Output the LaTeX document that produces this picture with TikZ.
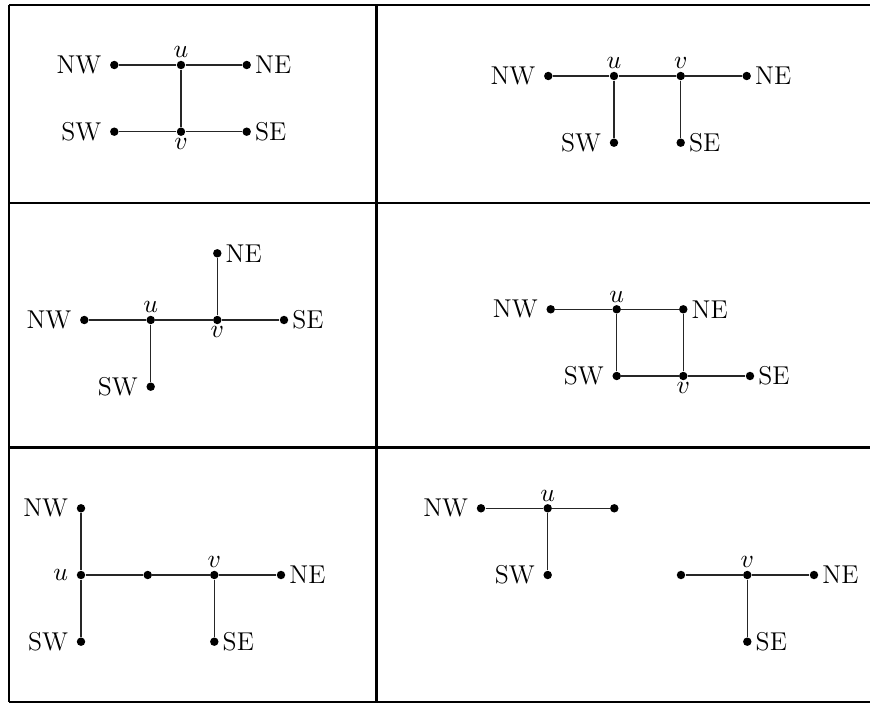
\documentclass[tikz,border=0pt]{standalone}
\usetikzlibrary{positioning}
\tikzset{
  v/.style={circle,fill=black,inner sep=0pt,minimum size=3.6pt},
  frame/.style={line width=0.9pt},
  edge/.style={line width=0.5pt,black!85},
  lw/.style={label={[inner sep=3.3pt]left:#1}},
  le/.style={label={[inner sep=1.4pt]right:#1}},
  la/.style={label={[inner sep=0.8pt]above:#1}},
  lb/.style={label={[inner sep=0.6pt]below:#1}},
}
\begin{document}
\begin{tikzpicture}[x=0.015cm,y=-0.015cm,every label/.style={font=\fontsize{11}{13}\selectfont}]
\useasboundingbox (0,0) rectangle (870,703);
% table frame
\draw[frame] (9,5) -- (875,5);
\draw[frame] (9,203.3) -- (875,203.3);
\draw[frame] (9,447.5) -- (875,447.5);
\draw[frame] (9,701.8) -- (875,701.8);
\draw[frame] (9,5) -- (9,701.8);
\draw[frame] (376.5,5) -- (376.5,701.8);
% panel 1
\node[v,lw=NW] (a1) at (114.3,65) {};
\node[v,la=$u$] (a2) at (181,65) {};
\node[v,le=NE] (a3) at (246.7,65) {};
\node[v,lw=SW] (a4) at (114.3,131.7) {};
\node[v,lb=$v$] (a5) at (181,131.7) {};
\node[v,le=SE] (a6) at (246.7,131.7) {};
\draw[edge] (a1) -- (a2) -- (a3);
\draw[edge] (a4) -- (a5) -- (a6);
\draw[edge] (a2) -- (a5);
% panel 2
\node[v,lw=NW] (b1) at (548.3,76) {};
\node[v,la=$u$] (b2) at (614,76) {};
\node[v,la=$v$] (b3) at (680.7,76) {};
\node[v,le=NE] (b4) at (746.7,76) {};
\node[v,lw=SW] (b5) at (614,142.7) {};
\node[v,le=SE] (b6) at (680.7,142.7) {};
\draw[edge] (b1) -- (b2) -- (b3) -- (b4);
\draw[edge] (b2) -- (b5);
\draw[edge] (b3) -- (b6);
% panel 3
\node[v,lw=NW] (c1) at (84.3,320) {};
\node[v,la=$u$] (c2) at (150.7,320) {};
\node[v,lb=$v$] (c3) at (217.3,320) {};
\node[v,le=SE] (c4) at (284,320) {};
\node[v,le=NE] (c5) at (217.3,253.3) {};
\node[v,lw=SW] (c6) at (150.7,386.7) {};
\draw[edge] (c1) -- (c2) -- (c3) -- (c4);
\draw[edge] (c2) -- (c6);
\draw[edge] (c3) -- (c5);
% panel 4
\node[v,lw=NW] (d1) at (550.7,309.3) {};
\node[v,la=$u$] (d2) at (616.7,309.3) {};
\node[v,le=NE] (d3) at (683.3,309.3) {};
\node[v,lw=SW] (d4) at (616.7,376) {};
\node[v,lb=$v$] (d5) at (683.3,376) {};
\node[v,le=SE] (d6) at (750,376) {};
\draw[edge] (d1) -- (d2) -- (d3) -- (d5) -- (d4) -- (d2);
\draw[edge] (d5) -- (d6);
% panel 5
\node[v,lw=NW] (e1) at (81,508.3) {};
\node[v,lw=$u$] (e2) at (81,575) {};
\node[v,lw=SW] (e3) at (81,641.7) {};
\node[v] (e4) at (147.7,575) {};
\node[v,la=$v$] (e5) at (214.3,575) {};
\node[v,le=NE] (e6) at (281,575) {};
\node[v,le=SE] (e7) at (214.3,641.7) {};
\draw[edge] (e1) -- (e2) -- (e3);
\draw[edge] (e2) -- (e4) -- (e5) -- (e6);
\draw[edge] (e5) -- (e7);
% panel 6
\node[v,lw=NW] (f1) at (481,508.3) {};
\node[v,la=$u$] (f2) at (547.7,508.3) {};
\node[v] (f3) at (614.3,508.3) {};
\node[v,lw=SW] (f4) at (547.7,575) {};
\node[v] (f5) at (681,575) {};
\node[v,la=$v$] (f6) at (747.3,575) {};
\node[v,le=NE] (f7) at (814,575) {};
\node[v,le=SE] (f8) at (747.3,641.7) {};
\draw[edge] (f1) -- (f2) -- (f3);
\draw[edge] (f2) -- (f4);
\draw[edge] (f5) -- (f6) -- (f7);
\draw[edge] (f6) -- (f8);
\end{tikzpicture}
\end{document}
